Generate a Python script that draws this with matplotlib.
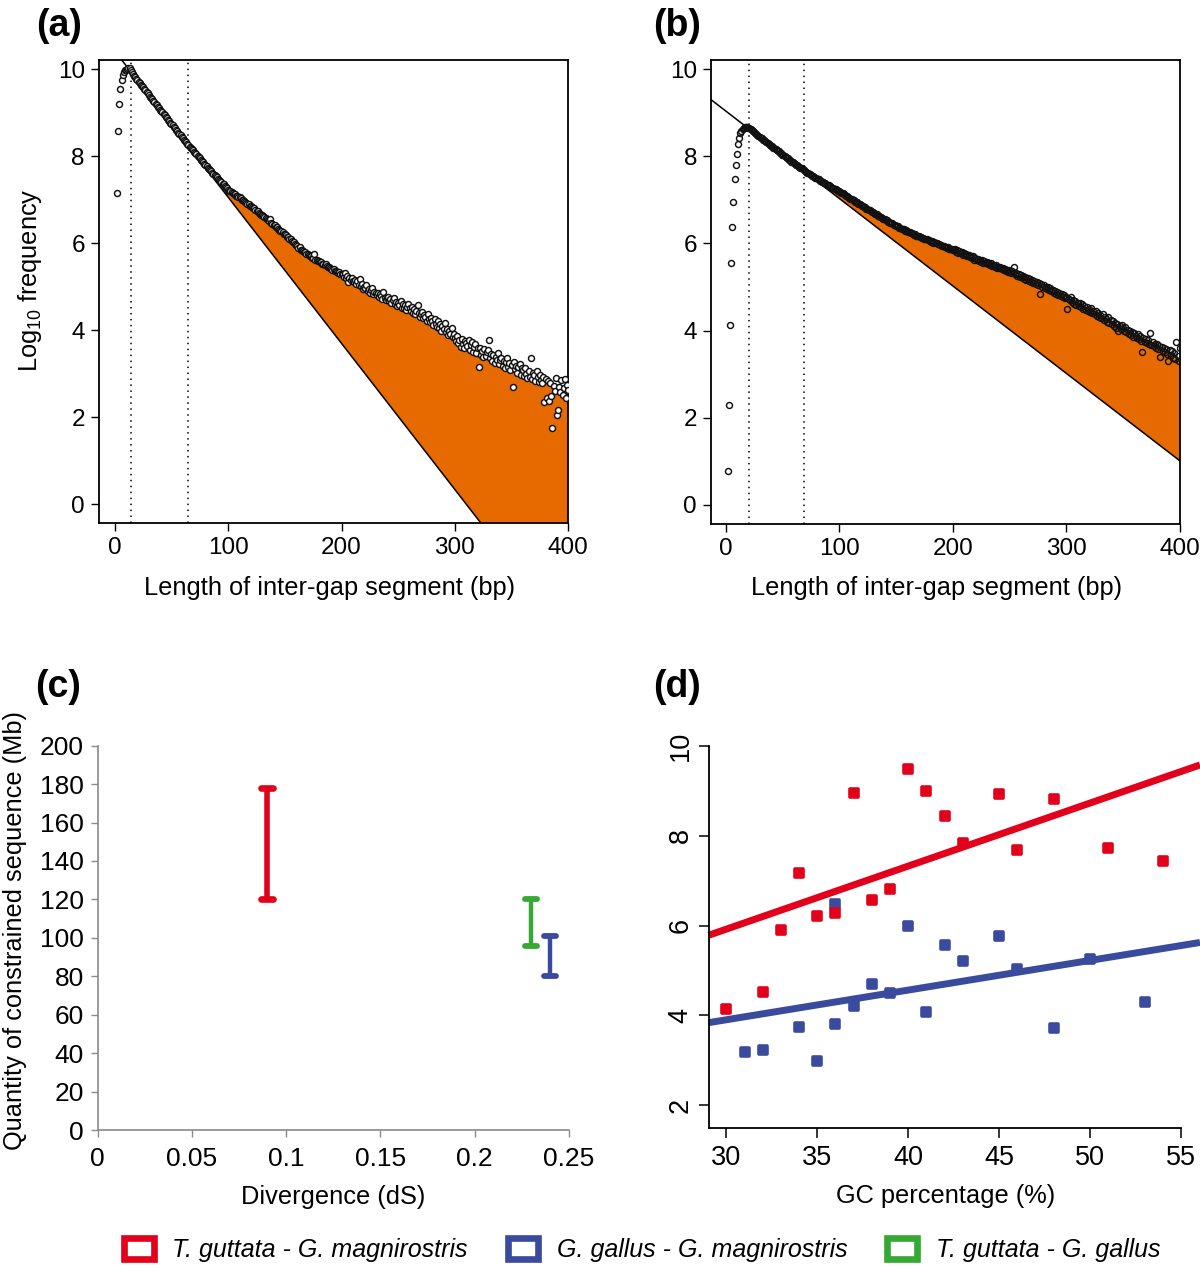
import numpy as np
import matplotlib
matplotlib.use("Agg")
import matplotlib.pyplot as plt
from matplotlib.markers import MarkerStyle
from matplotlib.patches import Patch

plt.rcParams['font.family'] = ['Liberation Sans', 'DejaVu Sans']

# ---------------- Panel (a) data: log10 frequency by inter-gap length (x = 2..400)
a_len_start = 2
a_y_15 = [7.16, 8.58, 9.20, 9.54, 9.74, 9.86, 9.93, 9.97, 9.99, 10.01, 10.02, 10.02, 9.98, 9.94]
a_y_100 = [9.89, 9.85, 9.82, 9.78, 9.75, 9.71, 9.68, 9.64, 9.61, 9.58,
           9.54, 9.51, 9.48, 9.44, 9.41, 9.37, 9.34, 9.31, 9.27, 9.24,
           9.21, 9.17, 9.14, 9.11, 9.07, 9.04, 9.01, 8.97, 8.94, 8.91,
           8.87, 8.84, 8.81, 8.77, 8.74, 8.71, 8.68, 8.64, 8.61, 8.58,
           8.54, 8.51, 8.48, 8.45, 8.41, 8.38, 8.35, 8.32, 8.29, 8.26,
           8.22, 8.19, 8.16, 8.13, 8.10, 8.07, 8.04, 8.00, 7.97, 7.95,
           7.91, 7.88, 7.86, 7.82, 7.79, 7.77, 7.73, 7.71, 7.68, 7.65,
           7.62, 7.60, 7.56, 7.54, 7.51, 7.48, 7.46, 7.42, 7.40, 7.37,
           7.35, 7.31, 7.29, 7.26, 7.23]
a_y_200 = [7.21, 7.20, 7.17, 7.16, 7.13, 7.12, 7.09, 7.08, 7.06, 7.05,
           7.03, 7.00, 7.00, 6.96, 6.95, 6.93, 6.90, 6.89, 6.86, 6.85,
           6.83, 6.80, 6.80, 6.76, 6.74, 6.73, 6.69, 6.68, 6.65, 6.64,
           6.62, 6.60, 6.57, 6.56, 6.53, 6.52, 6.56, 6.47, 6.45, 6.42,
           6.41, 6.37, 6.37, 6.33, 6.31, 6.29, 6.27, 6.26, 6.22, 6.20,
           6.18, 6.15, 6.14, 6.10, 6.09, 6.06, 6.03, 6.02, 5.98, 5.96,
           5.94, 5.89, 5.90, 5.85, 5.84, 5.81, 5.80, 5.79, 5.75, 5.74,
           5.73, 5.70, 5.71, 5.67, 5.66, 5.74, 5.62, 5.61, 5.59, 5.58,
           5.56, 5.57, 5.53, 5.52, 5.50, 5.51, 5.47, 5.46, 5.45, 5.43,
           5.41, 5.38, 5.40, 5.36, 5.37, 5.34, 5.31, 5.33, 5.29, 5.30]
a_y_300 = [5.28, 5.22, 5.31, 5.20, 5.24, 5.11, 5.19, 5.15, 5.21, 5.13,
           5.10, 5.16, 5.05, 5.12, 5.04, 5.18, 5.02, 5.06, 4.95, 5.00,
           4.97, 5.03, 4.90, 4.94, 4.86, 4.92, 4.98, 4.84, 4.88, 4.85,
           4.80, 4.86, 4.76, 4.82, 4.79, 4.72, 4.88, 4.74, 4.70, 4.74,
           4.77, 4.66, 4.71, 4.62, 4.69, 4.73, 4.60, 4.65, 4.55, 4.63,
           4.58, 4.66, 4.52, 4.61, 4.50, 4.57, 4.47, 4.54, 4.60, 4.50,
           4.44, 4.53, 4.40, 4.48, 4.36, 4.45, 4.58, 4.39, 4.31, 4.38,
           4.42, 4.27, 4.35, 4.30, 4.22, 4.37, 4.25, 4.18, 4.29, 4.22,
           4.12, 4.26, 4.15, 4.08, 4.20, 4.05, 4.14, 3.98, 4.10, 4.03,
           4.16, 3.95, 4.02, 3.88, 3.99, 3.92, 4.06, 3.85, 3.90, 3.82]
a_y_400 = [3.75, 3.86, 3.70, 3.77, 3.62, 3.80, 3.68, 3.58, 3.74, 3.70,
           3.64, 3.78, 3.55, 3.66, 3.72, 3.50, 3.61, 3.68, 3.47, 3.58,
           3.16, 3.60, 3.44, 3.52, 3.38, 3.57, 3.41, 3.49, 3.54, 3.77,
           3.35, 3.46, 3.30, 3.43, 3.25, 3.39, 3.31, 3.48, 3.22, 3.32,
           3.36, 3.18, 3.29, 3.12, 3.26, 3.35, 3.15, 3.24, 3.08, 3.20,
           2.70, 3.27, 3.10, 3.18, 3.02, 3.15, 3.22, 2.98, 3.12, 3.08,
           2.95, 3.14, 3.00, 2.90, 3.06, 2.93, 3.35, 2.88, 3.02, 2.97,
           2.84, 3.05, 2.92, 2.80, 2.96, 2.86, 2.78, 2.93, 2.35, 2.87,
           2.45, 2.82, 2.36, 2.79, 2.48, 1.74, 2.72, 2.60, 2.89, 2.05,
           2.17, 2.70, 2.58, 2.85, 2.50, 2.66, 2.88, 2.45, 2.74, 2.62]
a_fit_intercept, a_fit_slope = 10.415, -0.0336
a_cuts = [14, 65]
a_fill_x = [92, 100, 110, 120, 130, 140, 150, 160, 170, 180, 190, 200, 210, 220, 230, 240,
            250, 260, 270, 280, 290, 300, 310, 320, 330, 340, 350, 360, 370, 380, 390, 400]
a_fill_top = [7.33, 7.20, 7.03, 6.83, 6.62, 6.40, 6.18, 5.94, 5.72, 5.56, 5.41, 5.28, 5.12, 4.98,
              4.84, 4.72, 4.60, 4.48, 4.35, 4.19, 4.02, 3.80, 3.67, 3.55, 3.42, 3.29, 3.17,
              3.05, 2.94, 2.80, 2.66, 2.56]

# ---------------- Panel (b) data (x = 2..400)
b_len_start = 2
b_y_20 = [0.78, 2.29, 4.13, 5.55, 6.37, 6.96, 7.49, 7.81, 8.06, 8.28, 8.43, 8.53, 8.59, 8.63,
          8.65, 8.67, 8.68, 8.67, 8.66]
b_y_100 = [8.64, 8.62, 8.60, 8.57, 8.55, 8.53, 8.51, 8.49, 8.47, 8.45,
           8.43, 8.41, 8.38, 8.37, 8.34, 8.33, 8.30, 8.29, 8.26, 8.24,
           8.23, 8.20, 8.19, 8.16, 8.15, 8.12, 8.11, 8.08, 8.07, 8.04,
           8.03, 8.00, 7.99, 7.96, 7.95, 7.92, 7.91, 7.88, 7.87, 7.85,
           7.83, 7.81, 7.80, 7.77, 7.76, 7.73, 7.72, 7.70, 7.68, 7.66,
           7.65, 7.62, 7.61, 7.59, 7.58, 7.55, 7.55, 7.52, 7.51, 7.50,
           7.48, 7.47, 7.44, 7.44, 7.41, 7.40, 7.38, 7.38, 7.35, 7.35,
           7.33, 7.31, 7.30, 7.28, 7.27, 7.25, 7.24, 7.22, 7.21, 7.20]
b_y_200 = [7.19, 7.16, 7.16, 7.13, 7.12, 7.09, 7.09, 7.06, 7.05, 7.03,
           7.02, 6.99, 6.99, 6.96, 6.95, 6.94, 6.91, 6.91, 6.88, 6.87,
           6.86, 6.83, 6.83, 6.80, 6.80, 6.77, 6.76, 6.75, 6.72, 6.72,
           6.70, 6.68, 6.68, 6.64, 6.64, 6.61, 6.61, 6.58, 6.57, 6.56,
           6.53, 6.53, 6.50, 6.50, 6.48, 6.46, 6.46, 6.43, 6.42, 6.41,
           6.39, 6.39, 6.36, 6.35, 6.34, 6.32, 6.32, 6.29, 6.30, 6.28,
           6.26, 6.27, 6.24, 6.23, 6.22, 6.20, 6.21, 6.18, 6.17, 6.17,
           6.15, 6.15, 6.12, 6.13, 6.11, 6.10, 6.10, 6.07, 6.08, 6.06,
           6.04, 6.05, 6.02, 6.03, 6.00, 6.01, 5.98, 5.99, 5.96, 5.96,
           5.94, 5.95, 5.92, 5.92, 5.90, 5.91, 5.88, 5.87, 5.88, 5.86]
b_y_300 = [5.84, 5.87, 5.81, 5.84, 5.79, 5.82, 5.77, 5.80, 5.74, 5.77,
           5.73, 5.76, 5.70, 5.74, 5.68, 5.71, 5.66, 5.70, 5.63, 5.66,
           5.62, 5.65, 5.60, 5.63, 5.58, 5.61, 5.55, 5.59, 5.54, 5.57,
           5.52, 5.55, 5.50, 5.54, 5.48, 5.51, 5.46, 5.50, 5.44, 5.47,
           5.43, 5.46, 5.41, 5.44, 5.39, 5.42, 5.37, 5.40, 5.35, 5.39,
           5.33, 5.37, 5.31, 5.46, 5.29, 5.32, 5.26, 5.30, 5.24, 5.28,
           5.22, 5.26, 5.19, 5.23, 5.17, 5.21, 5.14, 5.18, 5.12, 5.15,
           5.10, 5.13, 5.07, 5.11, 5.05, 5.09, 4.85, 5.06, 5.00, 5.04,
           4.98, 5.01, 4.95, 4.99, 4.92, 4.98, 4.90, 4.94, 4.87, 4.91,
           4.85, 4.89, 4.82, 4.86, 4.80, 4.83, 4.77, 4.81, 4.74, 4.78]
b_y_400 = [4.50, 4.73, 4.69, 4.76, 4.65, 4.71, 4.62, 4.68, 4.59, 4.63,
           4.57, 4.64, 4.53, 4.60, 4.50, 4.56, 4.47, 4.54, 4.44, 4.49,
           4.43, 4.51, 4.40, 4.46, 4.37, 4.44, 4.33, 4.40, 4.31, 4.36,
           4.29, 4.37, 4.25, 4.32, 4.27, 4.20, 4.30, 4.18, 4.24, 4.15,
           4.22, 4.11, 4.18, 4.07, 4.14, 3.98, 4.10, 4.03, 4.12, 4.05,
           3.99, 4.08, 3.96, 4.02, 3.92, 4.00, 3.89, 3.96, 3.86, 3.94,
           3.88, 3.83, 3.92, 3.80, 3.87, 3.77, 3.50, 3.84, 3.74, 3.80,
           3.72, 3.79, 3.69, 3.95, 3.66, 3.73, 3.64, 3.70, 3.60, 3.68,
           3.58, 3.65, 3.40, 3.62, 3.54, 3.61, 3.50, 3.58, 3.47, 3.29,
           3.55, 3.44, 3.52, 3.38, 3.49, 3.35, 3.73, 3.42, 3.31, 3.60]
b_fit_intercept, b_fit_slope = 9.043, -0.02008
b_cuts = [21, 69]
b_fill_x = [85, 100, 115, 130, 145, 160, 175, 190, 200, 220, 240, 255, 270, 286, 300, 320,
            335, 350, 370, 385, 400]
b_fill_top = [7.34, 7.18, 6.93, 6.70, 6.46, 6.26, 6.09, 5.94, 5.84, 5.62, 5.44, 5.30, 5.12,
              4.92, 4.74, 4.46, 4.26, 4.03, 3.77, 3.56, 3.28]

# ---------------- Panel (c) data
c_divergence = [0.09, 0.24, 0.23]
c_low = [120, 80, 96]
c_high = [178, 101, 120]
c_yticks = [0, 20, 40, 60, 80, 100, 120, 140, 160, 180, 200]
c_xticks = [0, 0.05, 0.1, 0.15, 0.2, 0.25]
c_xticklabels = ['0', '0.05', '0.1', '0.15', '0.2', '0.25']

# ---------------- Panel (d) data
d_red_gc = [30, 32, 33, 34, 35, 36, 37, 38, 39, 40, 41, 42, 43, 45, 46, 48, 51, 54]
d_red_val = [4.14, 4.53, 5.90, 7.16, 6.22, 6.28, 8.94, 6.57, 6.82, 9.48, 9.00, 8.44, 7.83,
             8.93, 7.68, 8.82, 7.73, 7.44]
d_blue_gc = [31, 32, 34, 35, 36, 36, 37, 38, 39, 40, 41, 42, 43, 45, 46, 48, 50, 53]
d_blue_val = [3.19, 3.24, 3.75, 2.99, 3.82, 6.48, 4.20, 4.71, 4.50, 6.00, 4.08, 5.57, 5.22,
              5.77, 5.03, 3.73, 5.26, 4.30]
d_red_fit = (1.714, 0.1402)
d_blue_fit = (1.924, 0.0660)

legend_labels = ['T. guttata - G. magnirostris', 'G. gallus - G. magnirostris',
                 'T. guttata - G. gallus']

RED = '#e2001a'
BLUE = '#3a4a9c'
GREEN = '#36a935'
ORANGE = '#e66a00'

W, H = 1200, 1269
fig = plt.figure(figsize=(W / 100, H / 100), dpi=100)


def ax_px(l, t, r, b):
    return fig.add_axes([l / W, 1 - b / H, (r - l) / W, (b - t) / H])


def top_panel(ax, start, parts, fit, cuts, fx, ftop, xlim, mfc):
    y = np.concatenate([np.asarray(p, float) for p in parts])
    x = np.arange(start, start + len(y))
    icpt, slope = fit
    ax.set_xlim(*xlim)
    ax.set_ylim(-0.44, 10.21)
    poly_x = list(fx) + [fx[-1], fx[0]]
    poly_y = list(ftop) + [icpt + slope * fx[-1], icpt + slope * fx[0]]
    ax.fill(poly_x, poly_y, color=ORANGE, lw=0, zorder=1)
    lx = np.array(xlim)
    ax.plot(lx, icpt + slope * lx, color='black', lw=1.1, zorder=2)
    for c in cuts:
        ax.axvline(c, color='black', lw=1.1, ls=(0, (1, 2.9)), zorder=2)
    ax.plot(x, y, 'o', mfc=mfc, mec='#111111', ms=4.3, mew=1.05, zorder=3)
    ax.set_xticks([0, 100, 200, 300, 400])
    ax.set_yticks([0, 2, 4, 6, 8, 10])
    ax.tick_params(direction='out', length=6, width=1.0, labelsize=17.5, pad=4)
    for s in ax.spines.values():
        s.set_linewidth(1.3)


axA = ax_px(98.7, 60, 568.3, 523.3)
top_panel(axA, a_len_start, [a_y_15, a_y_100, a_y_200, a_y_300, a_y_400],
          (a_fit_intercept, a_fit_slope), a_cuts, a_fill_x, a_fill_top, (-14.2, 400), 'white')
axB = ax_px(711, 60, 1179.8, 524)
top_panel(axB, b_len_start, [b_y_20, b_y_100, b_y_200, b_y_300, b_y_400],
          (b_fit_intercept, b_fit_slope), b_cuts, b_fill_x, b_fill_top, (-12.8, 400), 'none')

# ---------------- Panel (c)
axC = ax_px(97.6, 745.7, 569, 1130)
axC.set_xlim(0, 0.25)
axC.set_ylim(0, 200)
for sp in ['top', 'right']:
    axC.spines[sp].set_visible(False)
for sp in ['left', 'bottom']:
    axC.spines[sp].set_color('#8a8a8a')
    axC.spines[sp].set_linewidth(1.2)
axC.set_yticks(c_yticks)
axC.set_xticks(c_xticks)
axC.set_xticklabels(c_xticklabels)
axC.tick_params(direction='out', length=5, width=1.0, color='#8a8a8a', labelsize=19)
axC.tick_params(axis='y', pad=5)
axC.tick_params(axis='x', pad=7)
cols = [RED, BLUE, GREEN]
bar_w = [4.0, 3.2, 3.2]
cap_w = [4.8, 4.2, 4.2]
capm = MarkerStyle('_', capstyle='round')
for xv, lo, hi, c, bw, cw in zip(c_divergence, c_low, c_high, cols, bar_w, cap_w):
    axC.vlines(xv, lo, hi, color=c, lw=bw, zorder=2)
    axC.plot([xv, xv], [lo, hi], linestyle='none', marker=capm, ms=8.0, mew=cw,
             color=c, zorder=3)

# ---------------- Panel (d)
axD = ax_px(708.7, 745.7, 1180.9, 1128.3)
axD.set_xlim(29.03, 55.0)
axD.set_ylim(1.49, 10.0)
for sp in ['top', 'right']:
    axD.spines[sp].set_visible(False)
for sp in ['left', 'bottom']:
    axD.spines[sp].set_linewidth(1.3)
line_x = np.array([29.03, 56.05])
for (icpt, slope), c in [(d_red_fit, RED), (d_blue_fit, BLUE)]:
    axD.plot(line_x, icpt + slope * line_x, color=c, lw=5.0, solid_capstyle='butt',
             clip_on=False, zorder=2)
sq = MarkerStyle('s', joinstyle='round')
axD.plot(d_blue_gc, d_blue_val, linestyle='none', marker=sq, ms=6.2, mew=2.6,
         color=BLUE, zorder=3)
axD.plot(d_red_gc, d_red_val, linestyle='none', marker=sq, ms=6.2, mew=2.6,
         color=RED, zorder=4)
axD.set_xticks([30, 35, 40, 45, 50, 55])
axD.set_yticks([2, 4, 6, 8, 10])
axD.set_yticklabels(['2', '4', '6', '8', '10'], rotation=90, va='center')
axD.tick_params(direction='out', length=7, width=1.1, labelsize=19.5)
axD.tick_params(axis='x', pad=5)
axD.tick_params(axis='y', pad=4)

# ---------------- Axis labels and panel letters
LF = 18.3
fig.text(330 / W, 1 - 588 / H, 'Length of inter-gap segment (bp)', ha='center', va='center', fontsize=LF)
fig.text(937 / W, 1 - 588 / H, 'Length of inter-gap segment (bp)', ha='center', va='center', fontsize=LF)
fig.text(30 / W, 1 - 280 / H, r'Log$_{\mathregular{10}}$ frequency', ha='center', va='center',
         rotation=90, fontsize=LF)
fig.text(15 / W, 1 - 930 / H, 'Quantity of constrained sequence (Mb)', ha='center', va='center',
         rotation=90, fontsize=LF)
fig.text(333 / W, 1 - 1197 / H, 'Divergence (dS)', ha='center', va='center', fontsize=LF)
fig.text(946 / W, 1 - 1196 / H, 'GC percentage (%)', ha='center', va='center', fontsize=LF)
for lab, (px, py) in {'(a)': (59, 26), '(b)': (677, 26), '(c)': (58, 687), '(d)': (677, 687)}.items():
    fig.text(px / W, 1 - py / H, lab, ha='center', va='center', fontsize=27, fontweight='bold')

# ---------------- Legend
handles = [Patch(facecolor='white', edgecolor=c, linewidth=4.8, joinstyle='round')
           for c in [RED, BLUE, GREEN]]
fig.legend(handles, legend_labels, loc='center', bbox_to_anchor=(642 / W, 1 - 1250 / H),
           ncol=3, frameon=False, prop={'family': 'Liberation Sans', 'style': 'italic', 'size': 18.0},
           handlelength=1.2, handleheight=0.9, handletextpad=0.75, columnspacing=1.6)

fig.savefig('out.png', dpi=100)
